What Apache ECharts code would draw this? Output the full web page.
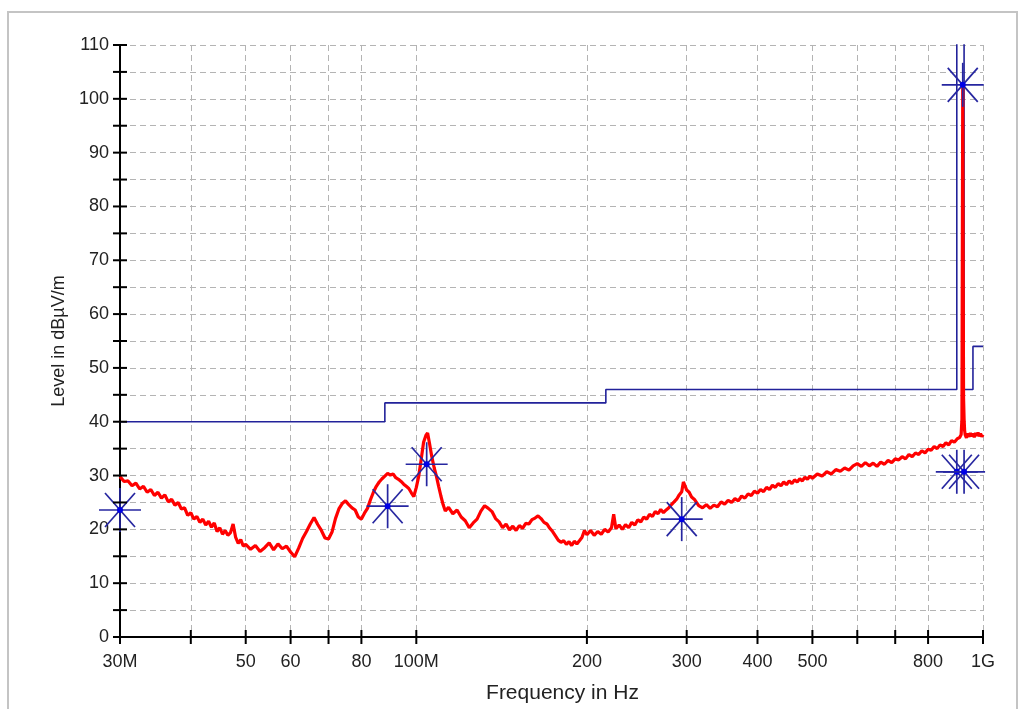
<!DOCTYPE html>
<html><head><meta charset="utf-8">
<script src="https://cdn.jsdelivr.net/npm/echarts@6/dist/echarts.min.js"></script>
<style>html,body{margin:0;padding:0;background:#fff}#c{width:1022px;height:709px}</style>
</head><body><div id="c"></div>
<script>
// ---- data ----
const xTickValues = [30,40,50,60,70,80,100,200,300,400,500,600,700,800,1000];
const xLabelValues = [30,50,60,80,100,200,300,400,500,800,1000];
const xLabelText = {30:'30M',100:'100M',1000:'1G'};
const yTickValues = [0,5,10,15,20,25,30,35,40,45,50,55,60,65,70,75,80,85,90,95,100,105,110];
const yLabelValues = [0,10,20,30,40,50,60,70,80,90,100,110];

const limitFreq  = [30,88,88,216,216,899,899,926,926,960,960,1000];
const limitLevel = [40,40,43.5,43.5,46,46,120,120,46,46,54,54];

const markerFreq  = [30,89,104.3,294,921,899,926];
const markerLevel = [23.6,24.3,32.1,21.9,102.6,30.7,30.7];

const traceLow = [[30,29.8],[30.5,28.9],[31,29.0],[31.5,28.1],[32,28.6],[32.5,27.5],[33,28.0],[33.5,26.9],[34,27.4],[34.5,26.3],[35,26.9],[35.5,25.8],[36,26.4],[36.5,25.1],[37,25.6],[37.5,24.5],[38,25.0],[38.5,23.8],[39,24.0],[39.5,22.6],[40,23.1],[40.5,21.9],[41,22.4],[41.5,21.3],[42,21.9],[42.5,20.8],[43,21.5],[43.5,20.4],[44,21.2],[44.5,19.6],[45,20.3],[45.5,19.1],[46,19.8],[46.5,18.9],[47,19.4],[47.5,21.0],[48,18.5],[48.5,17.4],[49,18.1],[49.5,16.9],[50,17.2],
[51,16.3],[52,17.0],[53,15.9],[54,16.6],[55,17.5],[56,16.2],[57,17.3],[58,16.4],[59,16.9],[60,15.8],[61,14.9],[62,16.5],[63,18.3],[64,19.6],[65,21.0],[66,22.2],[67,20.9],[68,19.8],[69,18.4],[70,18.2],[71,19.5],[72,22.0],[73,23.8],[74,24.8],[75,25.3],[76,24.6],[77,24.0],[78,23.6],[79,22.3],[80,21.9],[81,23.0],[82,23.9],[83,25.5],[84,26.9],[85,28.0],[86,28.8],[87,29.4],[88,29.9],[89,30.4],[90,30.1],[91,30.3],[92,29.6],[93,29.3],[94,28.9],[95,28.4],[96,28.0],[97,27.6],[98,26.8],[99,26.1],[100,27.8]];

const traceMid = [[101,29.9],[102,33.0],[103,36.2],[104,37.5],[104.7,37.9],[105.5,36.0],[106.5,33.5],[107.5,31.5],[108.5,29.9],[109.5,28.0],[110.5,26.2],[111.5,24.6],[112.5,23.4],[114,24.1],[116,22.9],[118,23.6],[120,22.3],[122,21.6],[124,20.3],[126,21.2],[128,21.9],[130,23.4],[132,24.4],[134,23.9],[136,23.3],[138,22.0],[140,21.4],[142,20.3],[144,21.0],[146,19.9],[148,20.6],[150,19.8],[152,20.7],[154,20.2],[156,21.1],[158,21.0],[160,21.8],[162,22.1],[164,22.5],[166,22.0],[168,21.3],[170,21.0],[172,20.2],[174,19.6],[176,18.8],[178,18.0],[180,17.6],[182,17.9],[184,17.2],[186,17.7],[188,17.0],[190,17.8],[192,17.3],[194,17.9],[196,18.5],[198,19.8],[200,19.0],[203,19.8],[206,18.9],[209,19.6],[212,19.1],[215,20.0],[218,19.5],[221,20.3],[223,22.8],[225,20.1],[228,20.8],[231,20.0],[234,20.9],[237,20.3],[240,21.3],[243,20.8],[246,21.8],[249,21.4],[252,22.3],[255,21.9],[258,22.8],[261,22.4],[264,23.3],[267,22.9],[270,23.7],[273,23.1],[276,23.6],[279,24.0],[282,24.6],[285,25.1],[288,25.6],[291,26.4],[294,27.0],[296,28.8],[298,28.1],[300,27.3]];

const traceHigh = [[303,26.9],[306,26.0],[310,25.5],[315,24.4],[320,24.0],[325,24.6],[330,23.9],[335,24.5],[340,24.2],[345,25.1],[350,24.7],[355,25.4],[360,25.0],[365,25.7],[370,25.3],[375,26.2],[380,25.8],[385,26.6],[390,26.3],[395,27.1],[400,26.7],[405,27.4],[410,27.0],[415,27.8],[420,27.4],[425,28.2],[430,27.8],[435,28.5],[440,28.1],[445,28.8],[450,28.3],[455,29.0],[460,28.5],[465,29.2],[470,28.8],[475,29.4],[480,29.0],[485,29.7],[490,29.3],[495,29.9],[500,29.5],[510,30.3],[520,29.9],[530,30.7],[540,30.3],[550,31.1],[560,30.8],[570,31.4],[580,31.0],[590,31.8],[600,32.2],[610,31.7],[620,32.4],[630,31.8],[640,32.3],[650,31.7],[660,32.5],[670,32.1],[680,32.8],[690,32.4],[700,33.1],[710,32.9],[720,33.5],[730,33.1],[740,33.9],[750,33.5],[760,34.2],[770,33.9],[780,34.6],[790,34.2],[800,34.9],[810,34.7],[820,35.4],[830,35.0],[840,35.7],[850,35.4],[860,36.1],[870,35.7],[880,36.5],[890,36.2],[900,36.8],[905,36.5],[910,37.1],[915,37.6],[918,40.5],[921,102.5],[924,44.5],[926,40.5],[928,38.4],[930,37.6],[935,37.0],[940,37.8],[945,37.2],[950,37.9],[955,37.3],[960,37.8],[965,37.1],[970,37.9],[975,37.4],[980,38.0],[985,37.3],[990,37.8],[995,37.2],[1000,37.6]];

// ---- chart ----
const chart = echarts.init(document.getElementById('c'), null, {renderer:'canvas'});
const FONT = 'Liberation Sans, Arial, sans-serif';
const gridDash = {color:'#b4b4b4', width:1, type:[6,4]};
const X_MIN = 30, Y_MIN = 0;

const limitData = limitFreq.map((f,i)=>[f, limitLevel[i]]);
const markerData = markerFreq.map((f,i)=>[f, markerLevel[i]]);
const traceData = traceLow.concat(traceMid, traceHigh);
const xTickData = xTickValues.map(f=>[f, Y_MIN]);
const yTickData = yTickValues.map(v=>[X_MIN, v]);

const tickLine = {stroke:'#000', lineWidth:2};

const option = {
  animation:false,
  backgroundColor:'#ffffff',
  graphic:[{type:'rect', shape:{x:8,y:12,width:1009,height:720}, style:{fill:'none', stroke:'#c4c4c4', lineWidth:2}, z:-1}],
  grid:{left:120, right:39, top:45, bottom:71, containLabel:false},
  xAxis:{
    type:'log', logBase:10, min:30, max:1000, position:'bottom',
    name:'Frequency in Hz', nameLocation:'middle', nameGap:46,
    nameTextStyle:{fontFamily:FONT, fontSize:21, color:'#222', padding:[0,0,0,22]},
    axisLine:{show:true, lineStyle:{color:'#000', width:2}},
    axisTick:{show:false, customValues:xTickValues},
    axisLabel:{show:true, customValues:xLabelValues, margin:16, fontFamily:FONT, fontSize:18, color:'#222',
      formatter:(v)=> xLabelText[Math.round(v)] || String(Math.round(v))},
    splitLine:{show:true, lineStyle:gridDash},
    minorTick:{show:false}, minorSplitLine:{show:false}
  },
  yAxis:{
    type:'value', min:0, max:110, interval:5, position:'left',
    name:'Level in dBµV/m', nameLocation:'middle', nameGap:52, nameRotate:90,
    nameTextStyle:{fontFamily:FONT, fontSize:18, color:'#222'},
    axisLine:{show:true, lineStyle:{color:'#000', width:2}},
    axisTick:{show:false},
    axisLabel:{show:true, margin:11, fontFamily:FONT, fontSize:18, color:'#222',
      formatter:(v)=> yLabelValues.indexOf(v) >= 0 ? String(v) : ''},
    splitLine:{show:true, lineStyle:gridDash}
  },
  series:[
    {type:'line', name:'Limit', data:limitData, showSymbol:false, symbol:'none',
      clip:true, lineStyle:{color:'#22229a', width:1.6}, z:2},
    {type:'line', name:'Trace', data:traceData, showSymbol:false, symbol:'none',
      clip:true, lineStyle:{color:'#ff0000', width:3.2}, z:3},
    {type:'custom', name:'XTicks', data:xTickData, z:6, silent:true,
      renderItem:(params, api)=>{
        const p = api.coord([api.value(0), api.value(1)]);
        return {type:'line', shape:{x1:p[0],y1:p[1]-7,x2:p[0],y2:p[1]+7}, style:tickLine};
      }},
    {type:'custom', name:'YTicks', data:yTickData, z:6, silent:true,
      renderItem:(params, api)=>{
        const p = api.coord([api.value(0), api.value(1)]);
        return {type:'line', shape:{x1:p[0]-7,y1:p[1],x2:p[0]+7,y2:p[1]}, style:tickLine};
      }},
    {type:'custom', name:'Markers', data:markerData, z:5,
      renderItem:(params, api)=>{
        const p = api.coord([api.value(0), api.value(1)]);
        const st = {stroke:'#2626a0', lineWidth:1.7};
        return {type:'group', children:[
          {type:'line', shape:{x1:p[0]-21,y1:p[1],x2:p[0]+21,y2:p[1]}, style:st},
          {type:'line', shape:{x1:p[0],y1:p[1]-22,x2:p[0],y2:p[1]+22}, style:st},
          {type:'line', shape:{x1:p[0]-15,y1:p[1]-17,x2:p[0]+15,y2:p[1]+17}, style:st},
          {type:'line', shape:{x1:p[0]-15,y1:p[1]+17,x2:p[0]+15,y2:p[1]-17}, style:st},
          {type:'circle', shape:{cx:p[0],cy:p[1],r:3}, style:{fill:'#0000e6'}}
        ]};
      }}
  ]
};
chart.setOption(option);
</script>
</body></html>
